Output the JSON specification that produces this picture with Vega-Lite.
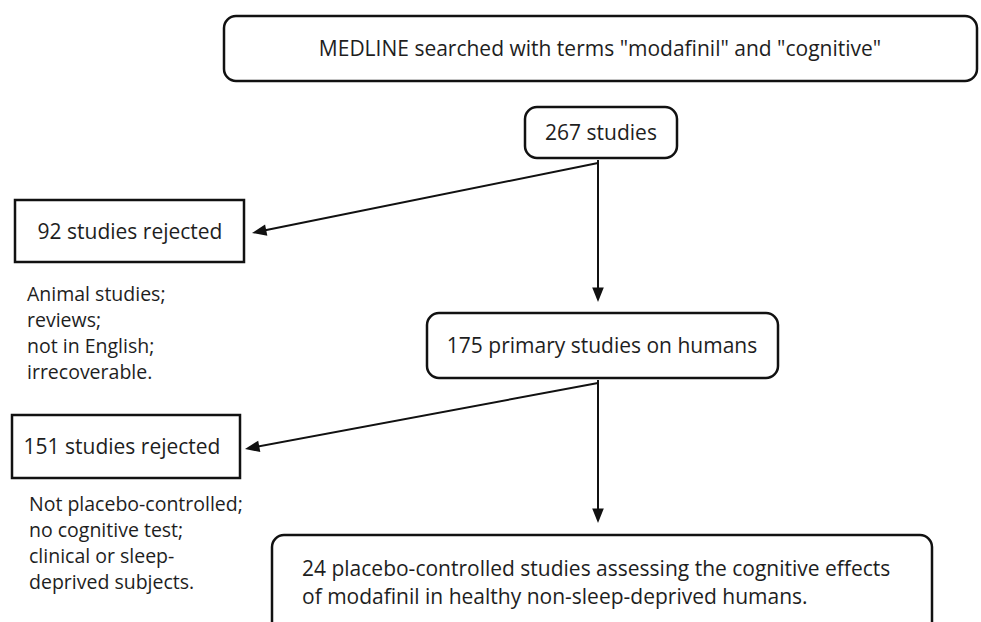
{
  "$schema": "https://vega.github.io/schema/vega-lite/v6.json",
  "width": 981,
  "height": 622,
  "padding": 0,
  "autosize": {"type": "none"},
  "background": "white",
  "config": {"view": {"stroke": null}},
  "datasets": {
    "boxes": [
      {"id": "search", "x": 224, "x2": 977, "y": 16, "y2": 81, "rounded": 1},
      {"id": "all", "x": 525, "x2": 677, "y": 107, "y2": 158, "rounded": 1},
      {"id": "rej1", "x": 15, "x2": 244, "y": 200, "y2": 262, "rounded": 0},
      {"id": "humans", "x": 427, "x2": 778, "y": 313, "y2": 378, "rounded": 1},
      {"id": "rej2", "x": 12, "x2": 240, "y": 415, "y2": 478, "rounded": 0},
      {"id": "final", "x": 272, "x2": 932, "y": 535, "y2": 640, "rounded": 1}
    ],
    "links": [
      {"x": 598, "y": 160, "x2": 598, "y2": 296},
      {"x": 598, "y": 163, "x2": 259, "y2": 231.6},
      {"x": 598, "y": 380, "x2": 598, "y2": 517},
      {"x": 598, "y": 383, "x2": 252, "y2": 447.7}
    ],
    "heads": [
      {"x": 598, "y": 302, "angle": 0},
      {"x": 252, "y": 233, "angle": 78.6},
      {"x": 598, "y": 523, "angle": 0},
      {"x": 245, "y": 449, "angle": 79.4}
    ],
    "centered": [
      {"x": 600, "y": 50, "text": "MEDLINE searched with terms \"modafinil\" and \"cognitive\""},
      {"x": 601, "y": 134, "text": "267 studies"},
      {"x": 130, "y": 233, "text": "92 studies rejected"},
      {"x": 602, "y": 347, "text": "175 primary studies on humans"},
      {"x": 122, "y": 448, "text": "151 studies rejected"}
    ],
    "notes": [
      {"x": 27, "y": 295, "text": "Animal studies;"},
      {"x": 27, "y": 321, "text": "reviews;"},
      {"x": 27, "y": 347, "text": "not in English;"},
      {"x": 27, "y": 373, "text": "irrecoverable."},
      {"x": 29, "y": 505, "text": "Not placebo-controlled;"},
      {"x": 29, "y": 531, "text": "no cognitive test;"},
      {"x": 29, "y": 557, "text": "clinical or sleep-"},
      {"x": 29, "y": 583, "text": "deprived subjects."}
    ],
    "final": [
      {"x": 302, "y": 570, "text": "24 placebo-controlled studies assessing the cognitive effects"},
      {"x": 302, "y": 598, "text": "of modafinil in healthy non-sleep-deprived humans."}
    ]
  },
  "layer": [
    {
      "data": {"name": "boxes"},
      "transform": [{"filter": "datum.rounded == 1"}],
      "mark": {"type": "rect", "fill": "white", "stroke": "#111111", "strokeWidth": 2.5, "cornerRadius": 12},
      "encoding": {
        "x": {"field": "x", "type": "quantitative", "scale": {"domain": [0, 981], "nice": false, "zero": false}, "axis": null},
        "x2": {"field": "x2"},
        "y": {"field": "y", "type": "quantitative", "scale": {"domain": [0, 622], "nice": false, "zero": false, "reverse": true}, "axis": null},
        "y2": {"field": "y2"}
      }
    },
    {
      "data": {"name": "boxes"},
      "transform": [{"filter": "datum.rounded == 0"}],
      "mark": {"type": "rect", "fill": "white", "stroke": "#111111", "strokeWidth": 2.5},
      "encoding": {
        "x": {"field": "x", "type": "quantitative", "axis": null},
        "x2": {"field": "x2"},
        "y": {"field": "y", "type": "quantitative", "axis": null},
        "y2": {"field": "y2"}
      }
    },
    {
      "data": {"name": "links"},
      "mark": {"type": "rule", "color": "#111111", "strokeWidth": 2},
      "encoding": {
        "x": {"field": "x", "type": "quantitative", "axis": null},
        "x2": {"field": "x2"},
        "y": {"field": "y", "type": "quantitative", "axis": null},
        "y2": {"field": "y2"}
      }
    },
    {
      "data": {"name": "heads"},
      "mark": {"type": "point", "shape": "M-0.8,-2L0.8,-2L0,0Z", "filled": true, "color": "#111111", "opacity": 1, "size": 210, "strokeWidth": 0},
      "encoding": {
        "x": {"field": "x", "type": "quantitative", "axis": null},
        "y": {"field": "y", "type": "quantitative", "axis": null},
        "angle": {"field": "angle", "type": "quantitative", "scale": null}
      }
    },
    {
      "data": {"name": "centered"},
      "mark": {"type": "text", "font": "Open Sans", "fontSize": 21, "color": "#1e1e1e", "align": "center", "baseline": "middle"},
      "encoding": {
        "x": {"field": "x", "type": "quantitative", "axis": null},
        "y": {"field": "y", "type": "quantitative", "axis": null},
        "text": {"field": "text"}
      }
    },
    {
      "data": {"name": "notes"},
      "mark": {"type": "text", "font": "Open Sans", "fontSize": 19.5, "color": "#1e1e1e", "align": "left", "baseline": "middle"},
      "encoding": {
        "x": {"field": "x", "type": "quantitative", "axis": null},
        "y": {"field": "y", "type": "quantitative", "axis": null},
        "text": {"field": "text"}
      }
    },
    {
      "data": {"name": "final"},
      "mark": {"type": "text", "font": "Open Sans", "fontSize": 21, "color": "#1e1e1e", "align": "left", "baseline": "middle"},
      "encoding": {
        "x": {"field": "x", "type": "quantitative", "axis": null},
        "y": {"field": "y", "type": "quantitative", "axis": null},
        "text": {"field": "text"}
      }
    }
  ]
}
